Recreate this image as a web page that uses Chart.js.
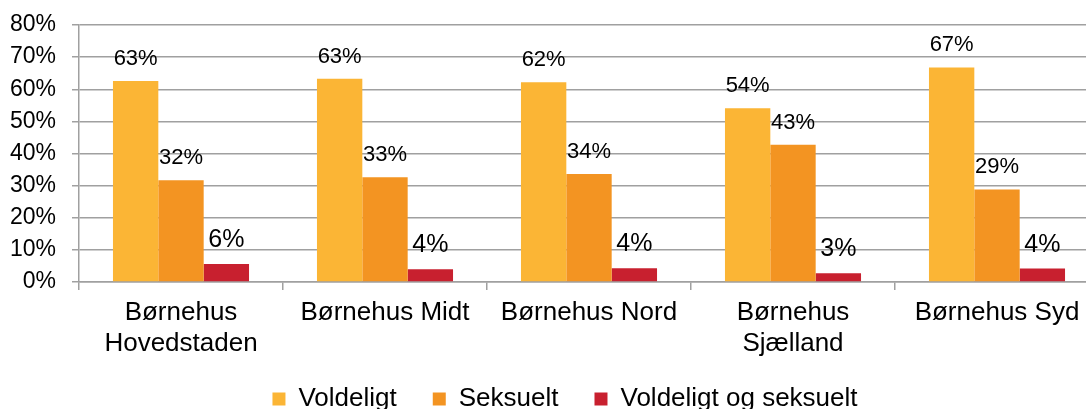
<!DOCTYPE html>
<html>
<head>
<meta charset="utf-8">
<script src="https://cdn.jsdelivr.net/npm/chart.js@4/dist/chart.umd.min.js"></script>
<style>
  html, body { margin: 0; padding: 0; background: #fff; overflow: hidden; }
  #wrap { position: absolute; left: 0; top: 0; width: 1130px; height: 431px; }
</style>
</head>
<body>
<div id="wrap"><canvas id="c"></canvas></div>
<script>
const categories = [['Børnehus', 'Hovedstaden'], 'Børnehus Midt', 'Børnehus Nord', ['Børnehus', 'Sjælland'], 'Børnehus Syd'];
const seriesNames = ['Voldeligt', 'Seksuelt', 'Voldeligt og seksuelt'];
const voldeligt = [62.6, 63.3, 62.2, 54.1, 66.8];
const seksuelt = [31.7, 32.6, 33.6, 42.7, 28.8];
const voldeligtOgSeksuelt = [5.6, 4.0, 4.3, 2.7, 4.2];
const yTicks = [0, 10, 20, 30, 40, 50, 60, 70, 80];

const FONT = "'Liberation Sans', Arial, sans-serif";
const GRID = '#a0a0a0';

const labelPlugin = {
  id: 'valueLabels',
  afterDatasetsDraw(chart) {
    const ctx = chart.ctx;
    ctx.save();
    ctx.fillStyle = '#000';
    ctx.textAlign = 'center';
    ctx.textBaseline = 'alphabetic';
    chart.data.datasets.forEach((ds, di) => {
      const meta = chart.getDatasetMeta(di);
      const big = di === 2;
      ctx.font = (big ? '25px ' : '22px ') + FONT;
      meta.data.forEach((el, i) => {
        const v = ds.data[i];
        ctx.fillText(Math.round(v) + '%', el.x, el.y - (big ? 17 : 16));
      });
    });
    ctx.restore();
  }
};

const legendPlace = {
  id: 'legendPlace',
  afterLayout(chart) {
    const lg = chart.legend;
    if (!lg) return;
    const h = lg.bottom - lg.top;
    lg.left = 31;
    lg.top = 350;
    lg.bottom = lg.top + h;
  }
};

new Chart(document.getElementById('c'), {
  type: 'bar',
  data: {
    labels: categories,
    datasets: [
      { label: seriesNames[0], data: voldeligt, backgroundColor: '#FBB535' },
      { label: seriesNames[1], data: seksuelt, backgroundColor: '#F39422' },
      { label: seriesNames[2], data: voldeligtOgSeksuelt, backgroundColor: '#C8202F' }
    ]
  },
  options: {
    responsive: true,
    maintainAspectRatio: false,
    animation: false,
    layout: { padding: { top: 25, left: 0, right: 31, bottom: 0 } },
    datasets: { bar: { categoryPercentage: 0.667, barPercentage: 1.0 } },
    plugins: {
      tooltip: { enabled: false },
      legend: {
        position: 'bottom',
        labels: {
          font: { family: FONT, size: 26 },
          color: '#000',
          boxWidth: 13,
          boxHeight: 13,
          padding: 36
        }
      }
    },
    scales: {
      x: {
        offset: true,
        grid: { display: true, drawOnChartArea: false, drawTicks: true, tickLength: 8, color: GRID, lineWidth: 1.5, offset: true },
        border: { color: GRID, width: 1.5 },
        ticks: { font: { family: FONT, size: 26, lineHeight: 1.173 }, color: '#000', padding: 8, maxRotation: 0, autoSkip: false },
        afterFit(scale) { scale.height = 77; }
      },
      y: {
        min: 0,
        max: 80,
        afterBuildTicks(scale) { scale.ticks = yTicks.map(v => ({ value: v })); },
        grid: { color: GRID, lineWidth: 1.5, tickLength: 7, drawTicks: true },
        border: { color: GRID, width: 1.5 },
        ticks: { font: { family: FONT, size: 23 }, color: '#000', padding: 16, callback: v => v + '%' },
        afterFit(scale) { scale.width = 79; scale.paddingTop = 10; scale.paddingBottom = 10; }
      }
    }
  },
  plugins: [labelPlugin, legendPlace]
});
</script>
</body>
</html>
